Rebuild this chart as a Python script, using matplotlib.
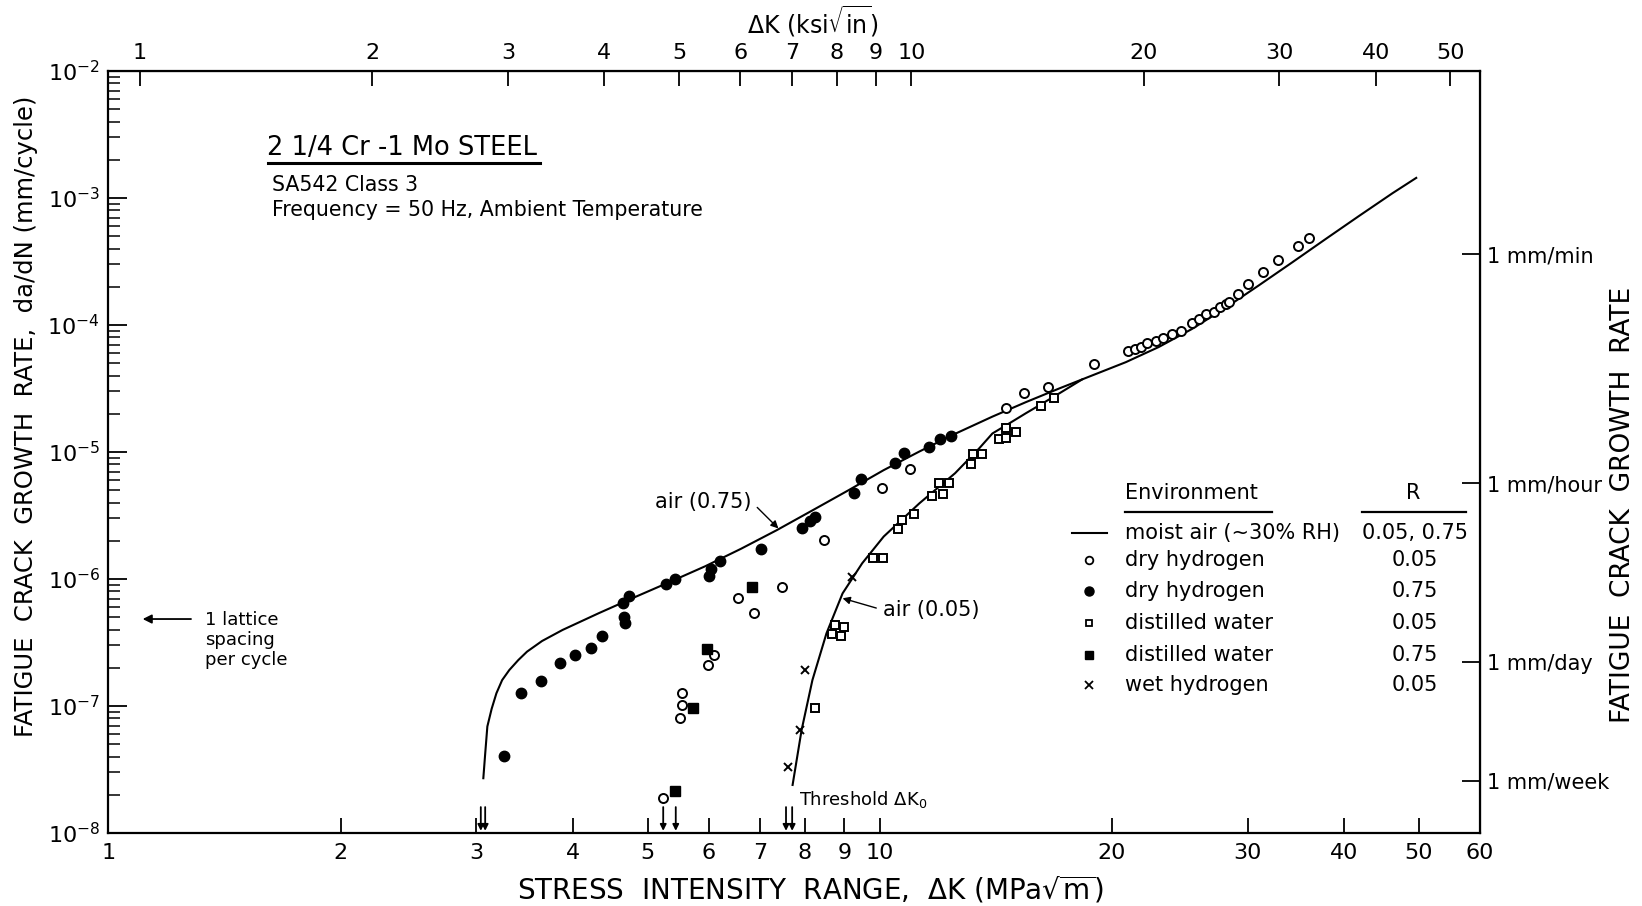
import matplotlib.pyplot as plt
from matplotlib.lines import Line2D
from matplotlib.ticker import NullLocator, LogLocator

plt.rcParams['font.family'] = ['DejaVu Sans']
plt.rcParams['mathtext.fontset'] = 'dejavusans'

# moist air curves, dK in MPa sqrt(m), rate in mm/cycle
air075_dk = [3.063, 3.08, 3.10, 3.14, 3.185, 3.24, 3.31, 3.40, 3.49, 3.65, 3.88, 4.32,
             4.80, 5.34, 5.94, 6.61, 7.35, 8.18, 9.10, 10.12, 11.26, 12.52, 14.0, 15.47,
             17.1, 18.88, 20.85, 23.0, 25.4, 28.1, 31.0, 34.3, 37.9, 41.8, 46.2, 49.6]
air075_rate = [2.7e-8, 4.2e-8, 6.9e-8, 9.5e-8, 1.26e-7, 1.6e-7, 1.92e-7, 2.3e-7, 2.68e-7,
               3.25e-7, 3.97e-7, 5.37e-7, 7.14e-7, 9.46e-7, 1.26e-6, 1.73e-6, 2.42e-6,
               3.47e-6, 4.98e-6, 7.2e-6, 1.01e-5, 1.39e-5, 1.9e-5, 2.47e-5, 3.17e-5,
               4.02e-5, 5.1e-5, 6.71e-5, 9.31e-5, 1.37e-4, 2.05e-4, 3.13e-4, 4.78e-4,
               7.21e-4, 1.09e-3, 1.44e-3]
air005_dk = [7.71, 7.92, 8.18, 8.53, 8.95, 9.49, 10.12, 11.26, 12.52, 13.46, 14.0, 14.72,
             15.47, 16.27, 17.1, 18.3]
air005_rate = [2.39e-8, 6.47e-8, 1.6e-7, 3.73e-7, 7.7e-7, 1.33e-6, 2.16e-6, 3.95e-6,
               6.8e-6, 1.07e-5, 1.4e-5, 1.68e-5, 2.02e-5, 2.42e-5, 2.9e-5, 3.73e-5]

# dry hydrogen, R = 0.05
dryh2_005_dk = [5.23, 5.51, 5.54, 5.54, 5.99, 6.09, 6.55, 6.87, 7.48, 8.46, 10.07, 10.94,
                14.58, 15.37, 16.51, 18.97, 21.0, 21.4, 21.8, 22.2, 22.8, 23.3, 23.9, 24.6,
                25.4, 25.9, 26.5, 27.1, 27.6, 28.1, 28.4, 29.1, 30.0, 31.4, 32.8, 34.9, 36.0]
dryh2_005_rate = [1.87e-8, 8.0e-8, 1.02e-7, 1.27e-7, 2.1e-7, 2.5e-7, 7.05e-7, 5.37e-7,
                  8.6e-7, 2.03e-6, 5.17e-6, 7.35e-6, 2.21e-5, 2.9e-5, 3.27e-5, 4.93e-5,
                  6.24e-5, 6.48e-5, 6.75e-5, 7.18e-5, 7.52e-5, 7.94e-5, 8.49e-5, 9.02e-5,
                  1.03e-4, 1.11e-4, 1.21e-4, 1.27e-4, 1.39e-4, 1.46e-4, 1.52e-4, 1.74e-4,
                  2.1e-4, 2.63e-4, 3.25e-4, 4.16e-4, 4.84e-4]

# dry hydrogen, R = 0.75
dryh2_075_dk = [3.26, 3.43, 3.64, 3.85, 4.03, 4.22, 4.37, 4.65, 4.73, 4.66, 4.67, 5.29,
                5.43, 6.01, 6.05, 6.20, 7.02, 7.94, 8.13, 8.24, 9.25, 9.46, 10.46, 10.76,
                11.58, 11.96, 12.36]
dryh2_075_rate = [4.04e-8, 1.27e-7, 1.56e-7, 2.17e-7, 2.5e-7, 2.86e-7, 3.56e-7, 6.44e-7,
                  7.35e-7, 4.99e-7, 4.53e-7, 9.14e-7, 9.95e-7, 1.06e-6, 1.19e-6, 1.39e-6,
                  1.71e-6, 2.53e-6, 2.88e-6, 3.1e-6, 4.78e-6, 6.1e-6, 8.24e-6, 9.9e-6,
                  1.10e-5, 1.26e-5, 1.34e-5]

# distilled water, R = 0.05
water_005_dk = [8.24, 8.74, 9.0, 8.67, 8.92, 9.80, 10.1, 10.56, 10.7, 11.08, 11.68, 12.07,
                11.94, 12.29, 13.15, 13.2, 13.55, 14.26, 14.58, 14.58, 15.02, 16.2, 16.8]
water_005_rate = [9.6e-8, 4.34e-7, 4.17e-7, 3.67e-7, 3.56e-7, 1.47e-6, 1.47e-6, 2.46e-6,
                  2.92e-6, 3.25e-6, 4.53e-6, 4.7e-6, 5.68e-6, 5.74e-6, 8.05e-6, 9.65e-6,
                  9.65e-6, 1.27e-5, 1.3e-5, 1.54e-5, 1.45e-5, 2.3e-5, 2.65e-5]

# distilled water, R = 0.75
water_075_dk = [5.42, 5.73, 5.97, 6.84]
water_075_rate = [2.15e-8, 9.7e-8, 2.81e-7, 8.7e-7]

# wet hydrogen, R = 0.05
weth2_dk = [7.60, 7.89, 8.0, 9.21]
weth2_rate = [3.33e-8, 6.5e-8, 1.92e-7, 1.04e-6]

# threshold dK0 arrows
threshold_dk = [3.04, 3.08, 5.24, 5.44, 7.56, 7.70]

bottom_ticks = [1, 2, 3, 4, 5, 6, 7, 8, 9, 10, 20, 30, 40, 50, 60]
ksi_ticks = [1, 2, 3, 4, 5, 6, 7, 8, 9, 10, 20, 30, 40, 50]
right_ticks = [3.6e-4, 5.7e-6, 2.21e-7, 2.59e-8]
right_labels = ["1 mm/min", "1 mm/hour", "1 mm/day", "1 mm/week"]

legend_env = ["moist air (~30% RH)", "dry hydrogen", "dry hydrogen", "distilled water",
              "distilled water", "wet hydrogen"]
legend_r = ["0.05, 0.75", "0.05", "0.75", "0.05", "0.75", "0.05"]

MPA_PER_KSI = 1.0988

fig = plt.figure(figsize=(16.42, 9.06), dpi=100)
ax = fig.add_axes([0.06596, 0.08057, 0.83538, 0.84106])
ax.set_xscale('log')
ax.set_yscale('log')
ax.set_xlim(1, 60)
ax.set_ylim(1e-8, 1e-2)

ax.plot(air075_dk, air075_rate, '-', color='k', lw=1.5)
ax.plot(air005_dk, air005_rate, '-', color='k', lw=1.5)

ax.plot(dryh2_005_dk, dryh2_005_rate, 'o', ls='none', mfc='white', mec='k', ms=6.5, mew=1.4)
ax.plot(dryh2_075_dk, dryh2_075_rate, 'o', ls='none', color='k', ms=7.5)
ax.plot(water_005_dk, water_005_rate, 's', ls='none', mfc='white', mec='k', ms=6, mew=1.4)
ax.plot(water_075_dk, water_075_rate, 's', ls='none', color='k', ms=6.5)
ax.plot(weth2_dk, weth2_rate, 'x', ls='none', color='k', ms=6, mew=1.4)

for x in threshold_dk:
    ax.annotate('', xy=(x, 1.04e-8), xytext=(x, 1.6e-8),
                arrowprops=dict(arrowstyle='-|>', color='k', lw=1.3, mutation_scale=9,
                                shrinkA=0, shrinkB=0))
ax.text(7.87, 1.82e-8, r"Threshold $\Delta$K$_0$", fontsize=13, va='center', ha='left')

# curve labels
ax.annotate("air (0.75)", xy=(7.39, 2.5e-6), xytext=(6.82, 4.06e-6), ha='right', va='center',
            fontsize=15,
            arrowprops=dict(arrowstyle='-|>', color='k', lw=1.0, mutation_scale=11,
                            relpos=(1, 0.5), shrinkA=3, shrinkB=0))
ax.annotate("air (0.05)", xy=(8.95, 7.05e-7), xytext=(10.1, 5.7e-7), ha='left', va='center',
            fontsize=15,
            arrowprops=dict(arrowstyle='-|>', color='k', lw=1.0, mutation_scale=11,
                            relpos=(0, 0.5), shrinkA=3, shrinkB=0))

# lattice spacing note
ax.annotate('', xy=(1.108, 4.84e-7), xytext=(1.28, 4.84e-7),
            arrowprops=dict(arrowstyle='-|>', color='k', lw=1.3, mutation_scale=13,
                            shrinkA=0, shrinkB=0))
ax.text(1.335, 3.3e-7, "1 lattice\nspacing\nper cycle", fontsize=13, ha='left', va='center',
        linespacing=1.15)

# ticks
for s in ax.spines.values():
    s.set_linewidth(1.6)
ax.set_xticks(bottom_ticks)
ax.set_xticklabels([str(t) for t in bottom_ticks])
ax.xaxis.set_minor_locator(NullLocator())
ax.yaxis.set_major_locator(LogLocator(base=10, numticks=10))
ax.yaxis.set_minor_locator(LogLocator(base=10, subs=range(2, 10), numticks=10))
ax.tick_params(axis='x', which='major', direction='in', length=11, width=1.3, labelsize=16,
               pad=7, top=False)
ax.tick_params(axis='y', which='major', direction='in', length=14, width=1.3, labelsize=16,
               pad=6, right=False)
ax.tick_params(axis='y', which='minor', direction='in', length=8.5, width=1.1, right=False)

secx = ax.secondary_xaxis('top', functions=(lambda x: x / MPA_PER_KSI, lambda x: x * MPA_PER_KSI))
secx.set_xticks(ksi_ticks)
secx.set_xticklabels([str(t) for t in ksi_ticks])
secx.xaxis.set_minor_locator(NullLocator())
secx.tick_params(direction='in', length=11, width=1.3, labelsize=16, pad=6)

secy = ax.secondary_yaxis('right', functions=(lambda y: y, lambda y: y))
secy.set_yticks(right_ticks)
secy.set_yticklabels(right_labels)
secy.yaxis.set_minor_locator(NullLocator())
secy.tick_params(direction='in', length=13, width=1.3, labelsize=15, pad=5)

# axis titles
fig.text(0.4933, 0.0177, r"STRESS  INTENSITY  RANGE,  $\Delta$K (MPa$\sqrt{\rm m}$)",
         fontsize=20, ha='center', va='center')
fig.text(0.495, 0.9768, r"$\Delta$K (ksi$\sqrt{\rm in}$)", fontsize=17, ha='center', va='center')
fig.text(0.0158, 0.541, "FATIGUE  CRACK  GROWTH  RATE,  da/dN (mm/cycle)", fontsize=17.5,
         rotation=90, ha='center', va='center')
fig.text(0.9884, 0.4426, "FATIGUE  CRACK  GROWTH  RATE", fontsize=19, rotation=90,
         ha='center', va='center')

# title block
fig.text(0.1626, 0.8366, "2 1/4 Cr -1 Mo STEEL", fontsize=18.5, ha='left', va='center')
fig.add_artist(Line2D([0.1631, 0.3287], [0.8198, 0.8198], transform=fig.transFigure,
                      color='k', lw=2.2))
fig.text(0.1657, 0.7958, "SA542 Class 3", fontsize=14.8, ha='left', va='center')
fig.text(0.1657, 0.7682, "Frequency = 50 Hz, Ambient Temperature", fontsize=14.8,
         ha='left', va='center')

# legend table
ax.text(0.7412, 0.4462, "Environment", transform=ax.transAxes, fontsize=15, va='center')
ax.text(0.9516, 0.4462, "R", transform=ax.transAxes, fontsize=15, va='center', ha='center')
ax.plot([0.741, 0.8486], [0.4217, 0.4217], transform=ax.transAxes, color='k', lw=1.6)
ax.plot([0.9143, 0.9895], [0.4217, 0.4217], transform=ax.transAxes, color='k', lw=1.6)
row_y = [0.3933, 0.3583, 0.318, 0.276, 0.2336, 0.1942]
sym_kw = [dict(marker='o', mfc='white', mec='k', ms=5.5, mew=1.3),
          dict(marker='o', color='k', ms=6.5),
          dict(marker='s', mfc='white', mec='k', ms=5, mew=1.3),
          dict(marker='s', color='k', ms=5.5),
          dict(marker='x', color='k', ms=5.5, mew=1.3)]
ax.plot([0.7023, 0.7283], [row_y[0], row_y[0]], transform=ax.transAxes, color='k', lw=1.5)
for y, kw in zip(row_y[1:], sym_kw):
    ax.plot([0.7152], [y], transform=ax.transAxes, ls='none', **kw)
for y, env, r in zip(row_y, legend_env, legend_r):
    ax.text(0.7412, y, env, transform=ax.transAxes, fontsize=15, va='center')
    ax.text(0.9526, y, r, transform=ax.transAxes, fontsize=15, va='center', ha='center')

fig.savefig("out.png", dpi=100)
